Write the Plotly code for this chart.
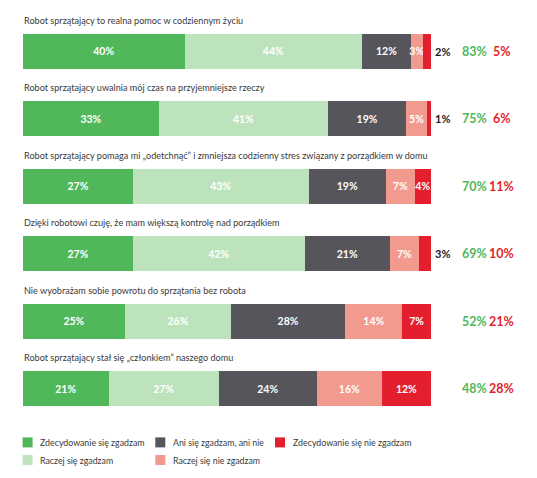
import plotly.graph_objects as go

# pytania (od góry)
statements = [
    "Robot sprzątający to realna pomoc w codziennym życiu",
    "Robot sprzątający uwalnia mój czas na przyjemniejsze rzeczy",
    "Robot sprzątający pomaga mi „odetchnąć” i zmniejsza codzienny stres związany z porządkiem w domu",
    "Dzięki robotowi czuję, że mam większą kontrolę nad porządkiem",
    "Nie wyobrażam sobie powrotu do sprzątania bez robota",
    "Robot sprzątający stał się „członkiem” naszego domu",
]

answers = [
    "Zdecydowanie się zgadzam",
    "Raczej się zgadzam",
    "Ani się zgadzam, ani nie",
    "Raczej się nie zgadzam",
    "Zdecydowanie się nie zgadzam",
]

strongly_agree = [40, 33, 27, 27, 25, 21]
rather_agree = [44, 41, 43, 42, 26, 27]
neutral = [12, 19, 19, 21, 28, 24]
rather_disagree = [3, 5, 7, 7, 14, 16]
strongly_disagree = [2, 1, 4, 3, 7, 12]

agree_total = [83, 75, 70, 69, 52, 48]
disagree_total = [5, 6, 11, 10, 21, 28]

colors = ["#50b75a", "#bde3bd", "#55555b", "#f39a8f", "#e31f2d"]
GREEN, RED = "#50b75a", "#e31f2d"
FONT = "Lato"

# strona ma 8 px marginesu, więc figura jest o tyle mniejsza
W, H = 529, 470
OFF = 8
rows = list(range(len(statements)))
series = [strongly_agree, rather_agree, neutral, rather_disagree, strongly_disagree]

fig = go.Figure()
for k, (name, vals) in enumerate(zip(answers, series)):
    if k == 4:
        labels = [f"{v}%" if v >= 4 else "" for v in vals]
    else:
        labels = [f"{v}%" for v in vals]
    fig.add_trace(go.Bar(
        y=rows, x=vals, name=name, orientation="h",
        marker=dict(color=colors[k], line=dict(width=0)),
        width=0.52,
        text=labels, textposition="inside", insidetextanchor="middle",
        textangle=0,
        textfont=dict(family=FONT, size=10.5, color="white", weight="bold"),
        showlegend=False, hoverinfo="skip",
    ))

ann = []
for i, title in enumerate(statements):
    ann.append(dict(x=-0.3, y=i - 0.46, xref="x", yref="y", text=title,
                    showarrow=False, xanchor="left", yanchor="middle",
                    font=dict(family=FONT, size=9.1, color="#3a3a3a")))
    if strongly_disagree[i] < 4:
        ann.append(dict(x=102.8, y=i, xref="x", yref="y", text=f"{strongly_disagree[i]}%",
                        showarrow=False, font=dict(family=FONT, size=11, color="#1a1a1a", weight="bold")))
    ann.append(dict(x=110.6, y=i, xref="x", yref="y", text=f"{agree_total[i]}%",
                    showarrow=False, font=dict(family=FONT, size=12.5, color=GREEN, weight="bold")))
    ann.append(dict(x=117.4, y=i, xref="x", yref="y", text=f"{disagree_total[i]}%",
                    showarrow=False, font=dict(family=FONT, size=12.5, color=RED, weight="bold")))

# legenda rysowana ręcznie (3 kolumny, po kolumnach)
shapes = []
col_sq = [22.6, 155.3, 275]
row_y = [442.4, 460]
for k, name in enumerate(answers):
    cx, cy = col_sq[k // 2] - OFF, row_y[k % 2] - OFF
    shapes.append(dict(type="rect", xref="paper", yref="paper",
                       x0=cx / W, x1=(cx + 10) / W,
                       y0=1 - (cy + 5) / H, y1=1 - (cy - 5) / H,
                       fillcolor=colors[k], line=dict(width=0)))
    ann.append(dict(x=(cx + 15.5) / W, y=1 - cy / H, xref="paper", yref="paper", text=name,
                    showarrow=False, xanchor="left", yanchor="middle",
                    font=dict(family=FONT, size=8.8, color="#3a3a3a")))

# 0% -> 23 px, 100% -> 431 px (w oknie)
u = 100 / 408
x0 = 23 - OFF
y0 = 51.4 - OFF
fig.update_layout(
    barmode="stack", barnorm="percent",
    width=W, height=H,
    margin=dict(l=0, r=0, t=0, b=0, pad=0),
    paper_bgcolor="white", plot_bgcolor="white",
    xaxis=dict(range=[-x0 * u, (W - x0) * u], visible=False, fixedrange=True),
    yaxis=dict(range=[(H - y0) / 67.45, -y0 / 67.45], visible=False, fixedrange=True),
    uniformtext=dict(minsize=10.5, mode="show"),
    annotations=ann, shapes=shapes,
    font=dict(family=FONT),
)

fig.write_html("out.html")
